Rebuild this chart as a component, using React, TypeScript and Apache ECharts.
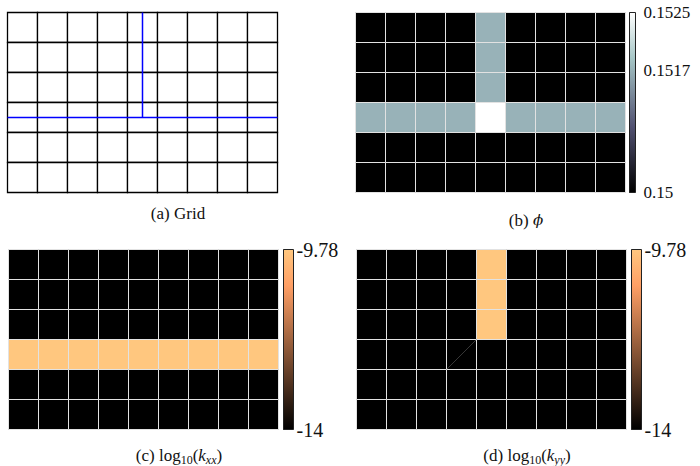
import React, { useEffect, useRef } from "react";
import * as echarts from "echarts";

// 9 x 6 cell mesh, rows listed top to bottom
const NX = 9;
const NY = 6;

// porosity field
const phiRows: number[][] = [
  [0.15, 0.15, 0.15, 0.15, 0.1517, 0.15, 0.15, 0.15, 0.15],
  [0.15, 0.15, 0.15, 0.15, 0.1517, 0.15, 0.15, 0.15, 0.15],
  [0.15, 0.15, 0.15, 0.15, 0.1517, 0.15, 0.15, 0.15, 0.15],
  [0.1517, 0.1517, 0.1517, 0.1517, 0.1525, 0.1517, 0.1517, 0.1517, 0.1517],
  [0.15, 0.15, 0.15, 0.15, 0.15, 0.15, 0.15, 0.15, 0.15],
  [0.15, 0.15, 0.15, 0.15, 0.15, 0.15, 0.15, 0.15, 0.15],
];

// log10 permeability, x direction
const kxxRows: number[][] = [
  [-14, -14, -14, -14, -14, -14, -14, -14, -14],
  [-14, -14, -14, -14, -14, -14, -14, -14, -14],
  [-14, -14, -14, -14, -14, -14, -14, -14, -14],
  [-9.78, -9.78, -9.78, -9.78, -9.78, -9.78, -9.78, -9.78, -9.78],
  [-14, -14, -14, -14, -14, -14, -14, -14, -14],
  [-14, -14, -14, -14, -14, -14, -14, -14, -14],
];

// log10 permeability, y direction
const kyyRows: number[][] = [
  [-14, -14, -14, -14, -9.78, -14, -14, -14, -14],
  [-14, -14, -14, -14, -9.78, -14, -14, -14, -14],
  [-14, -14, -14, -14, -9.78, -14, -14, -14, -14],
  [-14, -14, -14, -14, -14, -14, -14, -14, -14],
  [-14, -14, -14, -14, -14, -14, -14, -14, -14],
  [-14, -14, -14, -14, -14, -14, -14, -14, -14],
];

// colour ranges and colourbar ticks
const phiRange: [number, number] = [0.15, 0.1525];
const phiTicks = [0.15, 0.1517, 0.1525];
const permRange: [number, number] = [-14, -9.78];
const permTicks = [-14, -9.78];

// fracture traces in mesh units (x from left, y from bottom)
const fractureVertical = [
  [4.5, 6],
  [4.5, 2.5],
];
const fractureHorizontal = [
  [0, 2.5],
  [9, 2.5],
];

// triangulation seam visible in the kyy plot (mesh units)
const kyySeam = [
  [3, 2],
  [4, 3],
];

type RGB = [number, number, number];
type Stop = [number, RGB];

const boneStops: Stop[] = [
  [0, [0, 0, 0]],
  [0.365079, [0.319444, 0.319444, 0.444444]],
  [0.746032, [0.652778, 0.777778, 0.777778]],
  [1, [1, 1, 1]],
];
const copperStops: Stop[] = [
  [0, [0, 0, 0]],
  [0.8, [1, 0.625, 0.398]],
  [1, [1, 0.7812, 0.4975]],
];

const toCss = (c: RGB) =>
  `rgb(${Math.round(c[0] * 255)},${Math.round(c[1] * 255)},${Math.round(c[2] * 255)})`;

function sample(stops: Stop[], t: number): string {
  const u = Math.max(0, Math.min(1, t));
  for (let i = 1; i < stops.length; i++) {
    const [o1, c1] = stops[i];
    const [o0, c0] = stops[i - 1];
    if (u <= o1) {
      const f = (u - o0) / (o1 - o0 || 1);
      return toCss([
        c0[0] + (c1[0] - c0[0]) * f,
        c0[1] + (c1[1] - c0[1]) * f,
        c0[2] + (c1[2] - c0[2]) * f,
      ]);
    }
  }
  return toCss(stops[stops.length - 1][1]);
}

const toCells = (rows: number[][]) =>
  rows.flatMap((row, r) => row.map((v, c) => [c, NY - 1 - r, v]));

const FONT = "'Liberation Serif', 'DejaVu Serif', serif";

function fieldSeries(rows: number[][], stops: Stop[], range: [number, number], idx: number) {
  return {
    type: "custom",
    xAxisIndex: idx,
    yAxisIndex: idx,
    data: toCells(rows),
    renderItem: (_p: any, api: any) => {
      const x = api.value(0);
      const y = api.value(1);
      const v = api.value(2);
      const a = api.coord([x, y + 1]);
      const b = api.coord([x + 1, y]);
      return {
        type: "rect",
        shape: { x: a[0], y: a[1], width: b[0] - a[0], height: b[1] - a[1] },
        style: {
          fill: sample(stops, (v - range[0]) / (range[1] - range[0])),
          stroke: "#e2e2e2",
          lineWidth: 1,
        },
      };
    },
  };
}

function colorbarSeries(stops: Stop[], range: [number, number], idx: number) {
  return {
    type: "custom",
    xAxisIndex: idx,
    yAxisIndex: idx,
    data: [[0, range[0], 1, range[1]]],
    renderItem: (_p: any, api: any) => {
      const a = api.coord([api.value(0), api.value(3)]);
      const b = api.coord([api.value(2), api.value(1)]);
      return {
        type: "rect",
        shape: { x: a[0], y: a[1], width: b[0] - a[0], height: b[1] - a[1] },
        style: {
          fill: new echarts.graphic.LinearGradient(
            0,
            1,
            0,
            0,
            stops.map(([o, c]) => ({ offset: o, color: toCss(c) }))
          ),
          stroke: "#222",
          lineWidth: 1,
        },
      };
    },
  };
}

const meshAxisX = (idx: number) => ({
  type: "value",
  gridIndex: idx,
  min: 0,
  max: NX,
  show: false,
});
const meshAxisY = (idx: number) => ({
  type: "value",
  gridIndex: idx,
  min: 0,
  max: NY,
  show: false,
});
const barAxisX = (idx: number) => ({
  type: "value",
  gridIndex: idx,
  min: 0,
  max: 1,
  show: false,
});
const barAxisY = (
  idx: number,
  range: [number, number],
  ticks: number[],
  margin: number,
  fontSize: number
) => ({
  type: "value",
  gridIndex: idx,
  min: range[0],
  max: range[1],
  position: "right",
  axisLine: { show: false },
  splitLine: { show: false },
  axisTick: {
    show: true,
    customValues: ticks,
    length: 3,
    inside: false,
    lineStyle: { color: "#222", width: 1 },
  },
  axisLabel: {
    show: true,
    customValues: ticks,
    margin,
    fontFamily: FONT,
    fontSize,
    color: "#111",
    formatter: (v: number) => String(v),
  },
});

const captionRich = {
  s: { fontFamily: FONT, fontSize: 12, lineHeight: 13, verticalAlign: "bottom" },
  i: { fontFamily: FONT, fontSize: 17, fontStyle: "italic", lineHeight: 22 },
  si: {
    fontFamily: FONT,
    fontSize: 12,
    fontStyle: "italic",
    lineHeight: 13,
    verticalAlign: "bottom",
  },
  ph: { fontFamily: "'DejaVu Serif', serif", fontSize: 15, fontStyle: "italic", lineHeight: 22 },
};

const caption = (text: string, x: number, y: number) => ({
  type: "text",
  x,
  y,
  style: {
    text,
    fontFamily: FONT,
    fontSize: 17,
    lineHeight: 22,
    fill: "#111",
    align: "center",
    verticalAlign: "middle",
    rich: captionRich,
  },
});

const option = {
  animation: false,
  backgroundColor: "#ffffff",
  textStyle: { fontFamily: FONT },
  grid: [
    { left: 7.5, top: 12.5, width: 270, height: 180 },
    { left: 355.5, top: 12.5, width: 270, height: 180 },
    { left: 629.5, top: 12.5, width: 6, height: 180 },
    { left: 8.5, top: 249.5, width: 270, height: 180 },
    { left: 283.5, top: 249.5, width: 10, height: 180 },
    { left: 356.5, top: 249.5, width: 270, height: 180 },
    { left: 631.5, top: 249.5, width: 10, height: 180 },
  ],
  xAxis: [
    meshAxisX(0),
    meshAxisX(1),
    barAxisX(2),
    meshAxisX(3),
    barAxisX(4),
    meshAxisX(5),
    barAxisX(6),
  ],
  yAxis: [
    meshAxisY(0),
    meshAxisY(1),
    barAxisY(2, phiRange, phiTicks, 8, 17),
    meshAxisY(3),
    barAxisY(4, permRange, permTicks, 3, 20),
    meshAxisY(5),
    barAxisY(6, permRange, permTicks, 3, 20),
  ],
  series: [
    // (a) mesh outline
    {
      type: "custom",
      xAxisIndex: 0,
      yAxisIndex: 0,
      data: toCells(phiRows),
      renderItem: (_p: any, api: any) => {
        const a = api.coord([api.value(0), api.value(1) + 1]);
        const b = api.coord([api.value(0) + 1, api.value(1)]);
        return {
          type: "rect",
          shape: { x: a[0], y: a[1], width: b[0] - a[0], height: b[1] - a[1] },
          style: { fill: "#fff", stroke: "#000", lineWidth: 1.3 },
        };
      },
    },
    {
      type: "line",
      xAxisIndex: 0,
      yAxisIndex: 0,
      data: fractureVertical,
      showSymbol: false,
      symbol: "none",
      lineStyle: { color: "#0000ff", width: 1.5 },
      z: 5,
    },
    {
      type: "line",
      xAxisIndex: 0,
      yAxisIndex: 0,
      data: fractureHorizontal,
      showSymbol: false,
      symbol: "none",
      lineStyle: { color: "#0000ff", width: 1.5 },
      z: 5,
    },
    // (b) porosity
    fieldSeries(phiRows, boneStops, phiRange, 1),
    colorbarSeries(boneStops, phiRange, 2),
    // (c) kxx
    fieldSeries(kxxRows, copperStops, permRange, 3),
    colorbarSeries(copperStops, permRange, 4),
    // (d) kyy
    fieldSeries(kyyRows, copperStops, permRange, 5),
    {
      type: "line",
      xAxisIndex: 5,
      yAxisIndex: 5,
      data: kyySeam,
      showSymbol: false,
      symbol: "none",
      lineStyle: { color: "#5a5a5a", width: 0.6 },
      z: 5,
    },
    colorbarSeries(copperStops, permRange, 6),
  ],
  graphic: [
    caption("(a) Grid", 178, 213),
    caption("(b) {ph|ϕ}", 526, 220),
    caption("(c) log{s|10}({i|k}{si|xx})", 179, 455),
    caption("(d) log{s|10}({i|k}{si|yy})", 527, 455),
  ],
};

export default function App() {
  const ref = useRef<HTMLDivElement>(null);
  useEffect(() => {
    if (!ref.current) return;
    const chart = echarts.init(ref.current, undefined, { renderer: "svg" });
    chart.setOption(option as any);
    return () => chart.dispose();
  }, []);
  return (
    <div
      ref={ref}
      style={{ position: "absolute", left: 0, top: 0, width: 700, height: 466, background: "#fff" }}
    />
  );
}
